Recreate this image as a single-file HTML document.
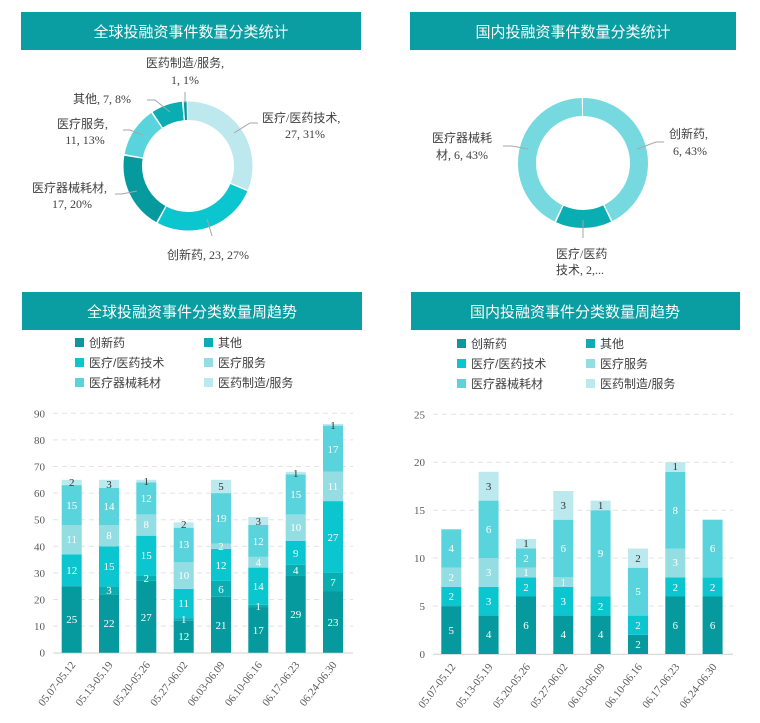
<!DOCTYPE html>
<html><head><meta charset="utf-8"><style>
body{margin:0;background:#fff;}
svg{display:block;font-family:"Liberation Serif","Noto Sans CJK SC",serif;}
.t{font-family:"Liberation Sans","Noto Sans CJK SC",sans-serif;}
.lb{font-size:12px;fill:#404040;}
.ax{font-size:11px;fill:#595959;}
.w{font-size:11px;fill:#fff;text-anchor:middle;}
.d{font-size:11px;fill:#333;text-anchor:middle;}
.lg{font-size:12px;fill:#404040;font-family:"Liberation Sans","Noto Sans CJK SC",sans-serif;}
.g{stroke:#e3e3e3;stroke-dasharray:5,4;stroke-width:1;}
</style></head><body>
<svg width="760" height="723" viewBox="0 0 760 723">
<rect x="21" y="12" width="340" height="38" fill="#0a9da2"/>
<text class="t" x="191" y="37" font-size="15" fill="#fff" text-anchor="middle">全球投融资事件数量分类统计</text>
<rect x="410" y="12" width="326" height="38" fill="#0a9da2"/>
<text class="t" x="573" y="37" font-size="15" fill="#fff" text-anchor="middle">国内投融资事件数量分类统计</text>
<rect x="22" y="292" width="340" height="38" fill="#0a9da2"/>
<text class="t" x="192" y="317" font-size="15" fill="#fff" text-anchor="middle">全球投融资事件分类数量周趋势</text>
<rect x="411" y="292" width="329" height="38" fill="#0a9da2"/>
<text class="t" x="575" y="317" font-size="15" fill="#fff" text-anchor="middle">国内投融资事件分类数量周趋势</text>

<g transform="translate(188,166) rotate(-90)" fill="none" stroke-width="18.5">
<circle r="55.25" stroke="#bde9ee" stroke-dasharray="107.5 400" stroke-dashoffset="0"/>
<circle r="55.25" stroke="#0cc6cf" stroke-dasharray="91.3 400" stroke-dashoffset="-108.97"/>
<circle r="55.25" stroke="#069a9e" stroke-dasharray="67.1 400" stroke-dashoffset="-201.8"/>
<circle r="55.25" stroke="#5ad4dc" stroke-dasharray="42.9 400" stroke-dashoffset="-270.41"/>
<circle r="55.25" stroke="#0aadb2" stroke-dasharray="26.7 400" stroke-dashoffset="-314.81"/>
<circle r="55.25" stroke="#069a9e" stroke-dasharray="2.5 400" stroke-dashoffset="-343.06"/>
</g>
<g stroke="#a6a6a6" stroke-width="1" fill="none">
<polyline points="234,133 250,123 258,123"/>
<polyline points="207,219 212,236"/>
<polyline points="137,191 122,194 115,194"/>
<polyline points="143,135 130,130 123,130"/>
<polyline points="170,112 155,100 147,100"/>
<polyline points="185,103 185,92"/>
</g>
<g class="lb">
<text x="185" y="67" text-anchor="middle">医药制造/服务,</text>
<text x="185" y="84" text-anchor="middle">1, 1%</text>
<text x="262" y="122">医疗/医药技术,</text>
<text x="305" y="138" text-anchor="middle">27, 31%</text>
<text x="167" y="259">创新药, 23, 27%</text>
<text x="32" y="192">医疗器械耗材,</text>
<text x="72" y="208" text-anchor="middle">17, 20%</text>
<text x="57" y="128">医疗服务,</text>
<text x="85" y="144" text-anchor="middle">11, 13%</text>
<text x="73" y="103">其他, 7, 8%</text>
</g>

<g transform="translate(583,163) rotate(-90)" fill="none" stroke-width="18">
<circle r="56" stroke="#76d9df" stroke-dasharray="149.3 400" stroke-dashoffset="0"/>
<circle r="56" stroke="#0aadb2" stroke-dasharray="48.8 400" stroke-dashoffset="-150.8"/>
<circle r="56" stroke="#76d9df" stroke-dasharray="149.3 400" stroke-dashoffset="-201.1"/>
</g>
<g stroke="#a6a6a6" stroke-width="1" fill="none">
<polyline points="637,149 656,142 664,142"/>
<polyline points="583,220 583,238"/>
<polyline points="528,149 512,146 503,146"/>
</g>
<g class="lb">
<text x="669" y="138">创新药,</text>
<text x="690" y="155" text-anchor="middle">6, 43%</text>
<text x="432" y="142">医疗器械耗</text>
<text x="436" y="159">材, 6, 43%</text>
<text x="556" y="258">医疗/医药</text>
<text x="556" y="274">技术, 2,...</text>
</g>

<g class="lg">
<rect x="75" y="338" width="9" height="9" fill="#069a9e"/><text x="89" y="347">创新药</text>
<rect x="204" y="338" width="9" height="9" fill="#0aadb2"/><text x="218" y="347">其他</text>
<rect x="75" y="358" width="9" height="9" fill="#0cc6cf"/><text x="89" y="367">医疗/医药技术</text>
<rect x="204" y="358" width="9" height="9" fill="#93dde3"/><text x="218" y="367">医疗服务</text>
<rect x="75" y="378" width="9" height="9" fill="#5ad4dc"/><text x="89" y="387">医疗器械耗材</text>
<rect x="204" y="378" width="9" height="9" fill="#bce9ee"/><text x="218" y="387">医药制造/服务</text>

<rect x="457" y="339" width="9" height="9" fill="#069a9e"/><text x="471" y="348">创新药</text>
<rect x="586" y="339" width="9" height="9" fill="#0aadb2"/><text x="600" y="348">其他</text>
<rect x="457" y="359" width="9" height="9" fill="#0cc6cf"/><text x="471" y="368">医疗/医药技术</text>
<rect x="586" y="359" width="9" height="9" fill="#93dde3"/><text x="600" y="368">医疗服务</text>
<rect x="457" y="379" width="9" height="9" fill="#5ad4dc"/><text x="471" y="388">医疗器械耗材</text>
<rect x="586" y="379" width="9" height="9" fill="#bce9ee"/><text x="600" y="388">医药制造/服务</text>
</g>

<g>
<line class="g" x1="53" x2="353" y1="626.1" y2="626.1"/><line class="g" x1="53" x2="353" y1="599.5" y2="599.5"/>
<line class="g" x1="53" x2="353" y1="572.9" y2="572.9"/><line class="g" x1="53" x2="353" y1="546.3" y2="546.3"/>
<line class="g" x1="53" x2="353" y1="519.7" y2="519.7"/><line class="g" x1="53" x2="353" y1="493.1" y2="493.1"/>
<line class="g" x1="53" x2="353" y1="466.5" y2="466.5"/><line class="g" x1="53" x2="353" y1="439.9" y2="439.9"/>
<line class="g" x1="53" x2="353" y1="413.3" y2="413.3"/>
<line x1="53" x2="353" y1="653" y2="653" stroke="#d0d0d0"/>
</g>
<g class="ax" text-anchor="end">
<text x="45" y="656.7">0</text><text x="45" y="630.1">10</text><text x="45" y="603.5">20</text><text x="45" y="576.9">30</text><text x="45" y="550.3">40</text><text x="45" y="523.7">50</text><text x="45" y="497.1">60</text><text x="45" y="470.5">70</text><text x="45" y="443.9">80</text><text x="45" y="417.3">90</text>
</g>
<g>
<rect x="61.7" y="586.2" width="20" height="66.5" fill="#069a9e"/><rect x="61.7" y="554.3" width="20" height="31.9" fill="#0cc6cf"/><rect x="61.7" y="525" width="20" height="29.3" fill="#93dde3"/><rect x="61.7" y="485.1" width="20" height="39.9" fill="#5ad4dc"/><rect x="61.7" y="479.8" width="20" height="5.3" fill="#bce9ee"/>
<rect x="99" y="594.2" width="20" height="58.5" fill="#069a9e"/><rect x="99" y="586.2" width="20" height="8" fill="#0aadb2"/><rect x="99" y="546.3" width="20" height="39.9" fill="#0cc6cf"/><rect x="99" y="525" width="20" height="21.3" fill="#93dde3"/><rect x="99" y="487.8" width="20" height="37.2" fill="#5ad4dc"/><rect x="99" y="479.8" width="20" height="8" fill="#bce9ee"/>
<rect x="136.3" y="580.9" width="20" height="71.8" fill="#069a9e"/><rect x="136.3" y="575.6" width="20" height="5.3" fill="#0aadb2"/><rect x="136.3" y="535.7" width="20" height="39.9" fill="#0cc6cf"/><rect x="136.3" y="514.4" width="20" height="21.3" fill="#93dde3"/><rect x="136.3" y="482.5" width="20" height="31.9" fill="#5ad4dc"/><rect x="136.3" y="479.8" width="20" height="2.7" fill="#bce9ee"/>
<rect x="173.7" y="620.8" width="20" height="31.9" fill="#069a9e"/><rect x="173.7" y="618.1" width="20" height="2.7" fill="#0aadb2"/><rect x="173.7" y="588.9" width="20" height="29.2" fill="#0cc6cf"/><rect x="173.7" y="562.3" width="20" height="26.6" fill="#93dde3"/><rect x="173.7" y="527.7" width="20" height="34.6" fill="#5ad4dc"/><rect x="173.7" y="522.4" width="20" height="5.3" fill="#bce9ee"/>
<rect x="211" y="596.8" width="20" height="55.9" fill="#069a9e"/><rect x="211" y="580.9" width="20" height="15.9" fill="#0aadb2"/><rect x="211" y="548.9" width="20" height="32" fill="#0cc6cf"/><rect x="211" y="543.6" width="20" height="5.3" fill="#93dde3"/><rect x="211" y="493.1" width="20" height="50.5" fill="#5ad4dc"/><rect x="211" y="479.8" width="20" height="13.3" fill="#bce9ee"/>
<rect x="248.3" y="607.5" width="20" height="45.2" fill="#069a9e"/><rect x="248.3" y="604.8" width="20" height="2.7" fill="#0aadb2"/><rect x="248.3" y="567.6" width="20" height="37.2" fill="#0cc6cf"/><rect x="248.3" y="556.9" width="20" height="10.7" fill="#93dde3"/><rect x="248.3" y="525" width="20" height="31.9" fill="#5ad4dc"/><rect x="248.3" y="517" width="20" height="8" fill="#bce9ee"/>
<rect x="285.7" y="575.6" width="20" height="77.1" fill="#069a9e"/><rect x="285.7" y="564.9" width="20" height="10.7" fill="#0aadb2"/><rect x="285.7" y="541" width="20" height="23.9" fill="#0cc6cf"/><rect x="285.7" y="514.4" width="20" height="26.6" fill="#93dde3"/><rect x="285.7" y="474.5" width="20" height="39.9" fill="#5ad4dc"/><rect x="285.7" y="471.8" width="20" height="2.7" fill="#bce9ee"/>
<rect x="323" y="591.5" width="20" height="61.2" fill="#069a9e"/><rect x="323" y="572.9" width="20" height="18.6" fill="#0aadb2"/><rect x="323" y="501.1" width="20" height="71.8" fill="#0cc6cf"/><rect x="323" y="471.8" width="20" height="29.3" fill="#93dde3"/><rect x="323" y="425.6" width="20" height="46.2" fill="#5ad4dc"/><rect x="323" y="423.9" width="20" height="1.7" fill="#bce9ee"/>
</g>
<g>
<text class="w" x="71.7" y="623">25</text><text class="w" x="71.7" y="574">12</text><text class="w" x="71.7" y="543">11</text><text class="w" x="71.7" y="509">15</text><text class="d" x="71.7" y="486">2</text>
<text class="w" x="109" y="627">22</text><text class="w" x="109" y="594">3</text><text class="w" x="109" y="570">15</text><text class="w" x="109" y="539">8</text><text class="w" x="109" y="510">14</text><text class="d" x="109" y="488">3</text>
<text class="w" x="146.3" y="621">27</text><text class="w" x="146.3" y="582">2</text><text class="w" x="146.3" y="559">15</text><text class="w" x="146.3" y="528">8</text><text class="w" x="146.3" y="502">12</text><text class="d" x="146.3" y="485">1</text>
<text class="w" x="183.7" y="640">12</text><text class="w" x="183.7" y="623">1</text><text class="w" x="183.7" y="607">11</text><text class="w" x="183.7" y="579">10</text><text class="w" x="183.7" y="548">13</text><text class="d" x="183.7" y="528">2</text>
<text class="w" x="221" y="629">21</text><text class="w" x="221" y="593">6</text><text class="w" x="221" y="569">12</text><text class="w" x="221" y="550">2</text><text class="w" x="221" y="522">19</text><text class="d" x="221" y="490">5</text>
<text class="w" x="258.3" y="634">17</text><text class="w" x="258.3" y="610">1</text><text class="w" x="258.3" y="590">14</text><text class="w" x="258.3" y="566">4</text><text class="w" x="258.3" y="545">12</text><text class="d" x="258.3" y="525">3</text>
<text class="w" x="295.7" y="618">29</text><text class="w" x="295.7" y="574">4</text><text class="w" x="295.7" y="557">9</text><text class="w" x="295.7" y="531">10</text><text class="w" x="295.7" y="498">15</text><text class="d" x="295.7" y="477">1</text>
<text class="w" x="333" y="626">23</text><text class="w" x="333" y="586">7</text><text class="w" x="333" y="541">27</text><text class="w" x="333" y="490">11</text><text class="w" x="333" y="453">17</text><text class="d" x="333" y="429">1</text>
</g>
<g class="ax" text-anchor="end">
<text transform="translate(76,665) rotate(-52)">05.07-05.12</text>
<text transform="translate(113.3,665) rotate(-52)">05.13-05.19</text>
<text transform="translate(150.6,665) rotate(-52)">05.20-05.26</text>
<text transform="translate(188,665) rotate(-52)">05.27-06.02</text>
<text transform="translate(225.3,665) rotate(-52)">06.03-06.09</text>
<text transform="translate(262.6,665) rotate(-52)">06.10-06.16</text>
<text transform="translate(300,665) rotate(-52)">06.17-06.23</text>
<text transform="translate(337.3,665) rotate(-52)">06.24-06.30</text>
</g>

<g>
<line class="g" x1="433" x2="733" y1="606.1" y2="606.1"/><line class="g" x1="433" x2="733" y1="558.1" y2="558.1"/>
<line class="g" x1="433" x2="733" y1="510.2" y2="510.2"/><line class="g" x1="433" x2="733" y1="462.2" y2="462.2"/>
<line class="g" x1="433" x2="733" y1="414.3" y2="414.3"/>
<line x1="433" x2="733" y1="654.3" y2="654.3" stroke="#d0d0d0"/>
</g>
<g class="ax" text-anchor="end">
<text x="425" y="658">0</text><text x="425" y="610.1">5</text><text x="425" y="562.1">10</text><text x="425" y="514.2">15</text><text x="425" y="466.2">20</text><text x="425" y="418.3">25</text>
</g>
<g>
<rect x="441.3" y="606.1" width="20" height="47.9" fill="#069a9e"/><rect x="441.3" y="586.9" width="20" height="19.2" fill="#0cc6cf"/><rect x="441.3" y="567.7" width="20" height="19.2" fill="#93dde3"/><rect x="441.3" y="529.3" width="20" height="38.4" fill="#5ad4dc"/>
<rect x="478.6" y="615.6" width="20" height="38.4" fill="#069a9e"/><rect x="478.6" y="586.9" width="20" height="28.7" fill="#0cc6cf"/><rect x="478.6" y="558.1" width="20" height="28.8" fill="#93dde3"/><rect x="478.6" y="500.6" width="20" height="57.5" fill="#5ad4dc"/><rect x="478.6" y="471.8" width="20" height="28.8" fill="#bce9ee"/>
<rect x="516" y="596.5" width="20" height="57.5" fill="#069a9e"/><rect x="516" y="577.3" width="20" height="19.2" fill="#0cc6cf"/><rect x="516" y="567.7" width="20" height="9.6" fill="#93dde3"/><rect x="516" y="548.5" width="20" height="19.2" fill="#5ad4dc"/><rect x="516" y="538.9" width="20" height="9.6" fill="#bce9ee"/>
<rect x="553.3" y="615.6" width="20" height="38.4" fill="#069a9e"/><rect x="553.3" y="586.9" width="20" height="28.7" fill="#0cc6cf"/><rect x="553.3" y="577.3" width="20" height="9.6" fill="#93dde3"/><rect x="553.3" y="519.7" width="20" height="57.6" fill="#5ad4dc"/><rect x="553.3" y="491" width="20" height="28.7" fill="#bce9ee"/>
<rect x="590.6" y="615.6" width="20" height="38.4" fill="#069a9e"/><rect x="590.6" y="596.5" width="20" height="19.1" fill="#0cc6cf"/><rect x="590.6" y="510.2" width="20" height="86.3" fill="#5ad4dc"/><rect x="590.6" y="500.6" width="20" height="9.6" fill="#bce9ee"/>
<rect x="628" y="634.8" width="20" height="19.2" fill="#069a9e"/><rect x="628" y="615.6" width="20" height="19.2" fill="#0cc6cf"/><rect x="628" y="567.7" width="20" height="47.9" fill="#5ad4dc"/><rect x="628" y="548.5" width="20" height="19.2" fill="#bce9ee"/>
<rect x="665.3" y="596.5" width="20" height="57.5" fill="#069a9e"/><rect x="665.3" y="577.3" width="20" height="19.2" fill="#0cc6cf"/><rect x="665.3" y="548.5" width="20" height="28.8" fill="#93dde3"/><rect x="665.3" y="471.8" width="20" height="76.7" fill="#5ad4dc"/><rect x="665.3" y="462.2" width="20" height="9.6" fill="#bce9ee"/>
<rect x="702.6" y="596.5" width="20" height="57.5" fill="#069a9e"/><rect x="702.6" y="577.3" width="20" height="19.2" fill="#0cc6cf"/><rect x="702.6" y="519.7" width="20" height="57.6" fill="#5ad4dc"/>
</g>
<g>
<text class="w" x="451.3" y="634">5</text><text class="w" x="451.3" y="600">2</text><text class="w" x="451.3" y="581">2</text><text class="w" x="451.3" y="552">4</text>
<text class="w" x="488.6" y="638">4</text><text class="w" x="488.6" y="605">3</text><text class="w" x="488.6" y="576">3</text><text class="w" x="488.6" y="533">6</text><text class="d" x="488.6" y="490">3</text>
<text class="w" x="526" y="629">6</text><text class="w" x="526" y="591">2</text><text class="w" x="526" y="576">1</text><text class="w" x="526" y="562">2</text><text class="d" x="526" y="547">1</text>
<text class="w" x="563.3" y="638">4</text><text class="w" x="563.3" y="605">3</text><text class="w" x="563.3" y="586">1</text><text class="w" x="563.3" y="552">6</text><text class="d" x="563.3" y="509">3</text>
<text class="w" x="600.6" y="638">4</text><text class="w" x="600.6" y="610">2</text><text class="w" x="600.6" y="557">9</text><text class="d" x="600.6" y="509">1</text>
<text class="w" x="638" y="648">2</text><text class="w" x="638" y="629">2</text><text class="w" x="638" y="595">5</text><text class="d" x="638" y="562">2</text>
<text class="w" x="675.3" y="629">6</text><text class="w" x="675.3" y="591">2</text><text class="w" x="675.3" y="566">3</text><text class="w" x="675.3" y="514">8</text><text class="d" x="675.3" y="470">1</text>
<text class="w" x="712.6" y="629">6</text><text class="w" x="712.6" y="591">2</text><text class="w" x="712.6" y="552">6</text>
</g>
<g class="ax" text-anchor="end">
<text transform="translate(456,667) rotate(-52)">05.07-05.12</text>
<text transform="translate(493.3,667) rotate(-52)">05.13-05.19</text>
<text transform="translate(530.6,667) rotate(-52)">05.20-05.26</text>
<text transform="translate(568,667) rotate(-52)">05.27-06.02</text>
<text transform="translate(605.3,667) rotate(-52)">06.03-06.09</text>
<text transform="translate(642.6,667) rotate(-52)">06.10-06.16</text>
<text transform="translate(680,667) rotate(-52)">06.17-06.23</text>
<text transform="translate(717.3,667) rotate(-52)">06.24-06.30</text>
</g>
</svg>
</body></html>
